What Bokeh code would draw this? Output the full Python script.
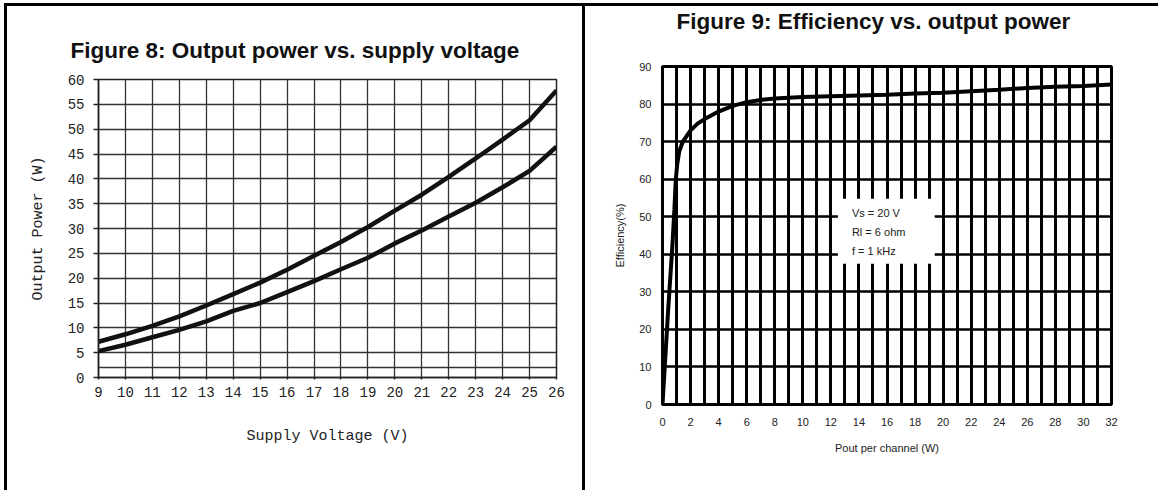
from bokeh.plotting import figure
from bokeh.layouts import row, column
from bokeh.models import Range1d, FixedTicker, Div, BoxAnnotation, Label, Title
from bokeh.embed import file_html
from bokeh.resources import INLINE

# ---------------- Figure 8 data ----------------
supply_voltage = [9, 10, 11, 12, 13, 14, 15, 16, 17, 18, 19, 20, 21, 22, 23, 24, 25, 26]
pout_upper = [7.2, 8.7, 10.4, 12.3, 14.5, 16.8, 19.1, 21.7, 24.5, 27.3, 30.3, 33.6, 36.8, 40.4, 44.1, 47.9, 51.8, 57.8]
pout_lower = [5.3, 6.6, 8.1, 9.6, 11.3, 13.4, 15.0, 17.2, 19.4, 21.8, 24.1, 27.0, 29.6, 32.4, 35.2, 38.3, 41.6, 46.5]
fig8_xticks = list(range(9, 27))
fig8_yticks = list(range(0, 61, 5))
fig8_ygrid = [2] + list(range(5, 61, 5))
fig8_title = "Figure 8: Output power vs. supply voltage"

# ---------------- Figure 9 data ----------------
pout_channel = [0, 0.4, 0.7, 0.85, 0.95, 1.05, 1.2, 1.45, 2, 2.5, 3, 4, 5, 6, 7, 8, 10, 12, 14, 16, 18, 20, 22, 24, 26, 28, 30, 32]
efficiency = [0, 25, 42, 52, 60, 64, 67.5, 70, 73, 74.8, 76, 78, 79.5, 80.5, 81.1, 81.5, 81.9, 82.1, 82.3, 82.5, 82.8, 83.0, 83.4, 83.8, 84.3, 84.6, 84.8, 85.2]
fig9_xticks = list(range(0, 33, 2))
fig9_xgrid = list(range(1, 33))
fig9_yticks = list(range(0, 91, 10))
fig9_conditions = ["Vs  = 20 V", "Rl  = 6 ohm", "f  = 1 kHz"]
fig9_title = "Figure 9: Efficiency vs. output power"

MONO = "Liberation Mono"
SANS = "Liberation Sans"


def add_title(p, text, offset, spacer_standoff):
    # spacer panel next to the frame, then the real title above it
    p.add_layout(Title(text=" ", text_font_size="8px", standoff=spacer_standoff), "above")
    p.add_layout(Title(text=text, text_font=SANS, text_font_size="22.5px",
                       text_font_style="bold", text_color="#111111",
                       align="left", offset=offset, standoff=0), "above")


# ---------------- Figure 8 ----------------
p1 = figure(width=575, height=484, output_backend="svg", toolbar_location=None,
            x_range=Range1d(9, 26), y_range=Range1d(0, 60),
            min_border_left=91, min_border_right=26, min_border_top=73, min_border_bottom=113)
p1.background_fill_color = "white"
p1.border_fill_color = "white"
p1.outline_line_color = "#222222"
p1.outline_line_width = 1.5

p1.xaxis.ticker = FixedTicker(ticks=fig8_xticks)
p1.yaxis.ticker = FixedTicker(ticks=fig8_yticks)
p1.xgrid.ticker = FixedTicker(ticks=fig8_xticks)
p1.ygrid.ticker = FixedTicker(ticks=fig8_ygrid)
for g in (p1.xgrid, p1.ygrid):
    g.grid_line_color = "#333333"
    g.grid_line_width = 1.3
for ax in (p1.xaxis, p1.yaxis):
    ax.axis_line_color = "#222222"
    ax.axis_line_width = 1.5
    ax.major_tick_line_color = "#222222"
    ax.major_tick_line_width = 1.5
    ax.minor_tick_line_color = None
    ax.major_tick_in = 0
    ax.major_label_text_font = MONO
    ax.major_label_text_font_size = "14px"
    ax.major_label_text_color = "#222222"
    ax.axis_label_text_font = MONO
    ax.axis_label_text_font_size = "15px"
    ax.axis_label_text_font_style = "normal"
    ax.axis_label_text_color = "#222222"
p1.yaxis.major_tick_out = 5
p1.xaxis.major_tick_out = 2
p1.yaxis.major_label_standoff = 9
p1.xaxis.major_label_standoff = 7
p1.xaxis.axis_label = "Supply Voltage (V)"
p1.yaxis.axis_label = "Output Power (W)"
p1.xaxis.axis_label_standoff = 28
p1.yaxis.axis_label_standoff = 18

p1.line(supply_voltage, pout_upper, line_color="#111111", line_width=4.5)
p1.line(supply_voltage, pout_lower, line_color="#111111", line_width=4.5)

add_title(p1, fig8_title, offset=-28, spacer_standoff=5.6)

# ---------------- Figure 9 ----------------
p2 = figure(width=573, height=484, output_backend="svg", toolbar_location=None,
            x_range=Range1d(0, 32), y_range=Range1d(0, 90),
            min_border_left=77, min_border_right=47, min_border_top=60, min_border_bottom=86)
p2.background_fill_color = "white"
p2.border_fill_color = "white"
p2.outline_line_color = "black"
p2.outline_line_width = 3

p2.xaxis.ticker = FixedTicker(ticks=fig9_xticks)
p2.yaxis.ticker = FixedTicker(ticks=fig9_yticks)
p2.xgrid.ticker = FixedTicker(ticks=fig9_xgrid)
p2.ygrid.ticker = FixedTicker(ticks=fig9_yticks)
p2.xgrid.grid_line_color = "black"
p2.xgrid.grid_line_width = 3
p2.ygrid.grid_line_color = "black"
p2.ygrid.grid_line_width = 2.5
for ax in (p2.xaxis, p2.yaxis):
    ax.axis_line_color = "black"
    ax.axis_line_width = 3
    ax.major_tick_line_color = None
    ax.minor_tick_line_color = None
    ax.major_tick_in = 0
    ax.major_tick_out = 0
    ax.major_label_text_font = SANS
    ax.major_label_text_font_size = "11px"
    ax.major_label_text_color = "#222222"
    ax.axis_label_text_font = SANS
    ax.axis_label_text_font_size = "11px"
    ax.axis_label_text_font_style = "normal"
    ax.axis_label_text_color = "#222222"
p2.yaxis.major_label_standoff = 11
p2.xaxis.major_label_standoff = 13
p2.xaxis.axis_label = "Pout per channel (W)"
p2.yaxis.axis_label = "Efficiency(%)"
p2.xaxis.axis_label_standoff = 13
p2.yaxis.axis_label_standoff = 10

p2.line(pout_channel, efficiency, line_color="black", line_width=4)

p2.add_layout(BoxAnnotation(left=12.5, right=19.4, bottom=37.5, top=54.8,
                            fill_color="white", fill_alpha=1, line_alpha=0))
for i, txt in enumerate(fig9_conditions):
    p2.add_layout(Label(x=13.5, y=51.1 - 5.1 * i, text=txt, text_font=SANS,
                        text_font_size="11px", text_color="#222222",
                        text_baseline="middle", text_align="left"))

add_title(p2, fig9_title, offset=14, spacer_standoff=21.5)

# ---------------- frame ----------------
def bar(w, h, color):
    return Div(text="", width=w, height=h, margin=0, styles={"background-color": color})

top_row = row(bar(4, 3, "white"), bar(1154, 3, "black"), spacing=0)
main_row = row(bar(4, 484, "white"), bar(3, 484, "black"), column(p1, spacing=0),
               bar(3, 484, "black"), column(p2, spacing=0), spacing=0)
layout = column(bar(1158, 3, "white"), top_row, main_row, spacing=0)

open("out.html", "w").write(file_html(layout, INLINE))
